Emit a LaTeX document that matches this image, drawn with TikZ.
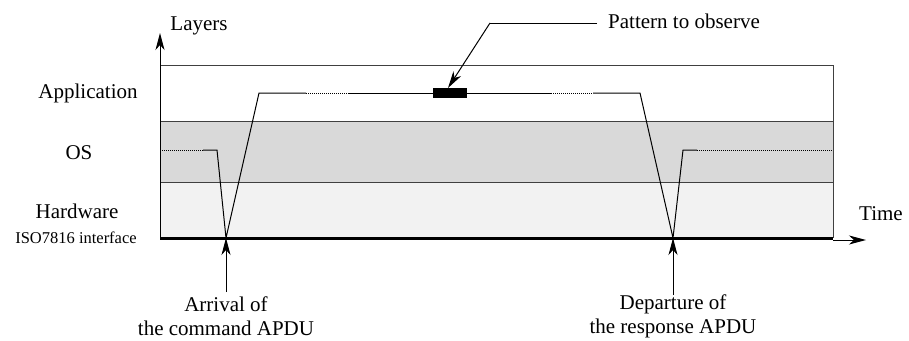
\documentclass[tikz,border=0pt]{standalone}
\usepackage{fontspec}
\setmainfont{Liberation Serif}
\newfontfamily\tms{Liberation Serif}
\usetikzlibrary{arrows.meta}
\definecolor{osgray}{gray}{0.85}
\definecolor{hwgray}{gray}{0.95}
\definecolor{edge}{gray}{0.25}
\begin{document}
\begin{tikzpicture}[x=1pt,y=-1pt,
  lbl/.style={inner sep=0pt,font=\tms\fontsize{21}{24}\selectfont},
  small/.style={inner sep=0pt,font=\tms\fontsize{16.5}{19}\selectfont},
  band/.style={draw=edge,line width=1pt},
  trace/.style={line width=1pt,line join=miter},
  dots/.style={line width=1pt,densely dotted},
  tip/.style={-{Stealth[length=17pt,width=9pt,inset=5pt]}},
  ]
\useasboundingbox (0,0) rectangle (909,340);
% bands
\fill[white] (160,65) rectangle (833,121);
\fill[osgray] (160,121) rectangle (833,182);
\fill[hwgray] (160,182) rectangle (833,238);
\draw[band] (160,65) -- (833,65);
\draw[band] (160,121) -- (833,121);
\draw[band] (160,182) -- (833,182);
\draw[band] (833,65) -- (833,238);
% axes
\coordinate (o) at (160,238);
\coordinate (ytop) at (160,33);
\coordinate (xend) at (833,240);
\coordinate (xtip) at (866,240);
\draw[line width=1pt,tip] (o) -- (ytop);
\draw[line width=3pt] (o) -- (833,238);
\draw[line width=1pt,tip] (xend) -- (xtip);
% trace
\coordinate (a0) at (162,150);
\coordinate (a1) at (203,150);
\coordinate (a2) at (217,150);
\coordinate (arr) at (226,238);
\coordinate (b0) at (259,93);
\coordinate (b1) at (306,93);
\coordinate (b2) at (349,93);
\coordinate (b3) at (433,93);
\coordinate (b4) at (467,93);
\coordinate (b5) at (551,93);
\coordinate (b6) at (593,93);
\coordinate (b7) at (640,93);
\coordinate (dep) at (673,238);
\coordinate (c0) at (683,150);
\coordinate (c1) at (697,150);
\coordinate (c2) at (833,150);
\draw[dots] (a0) -- (a1);
\draw[trace] (a1) -- (a2) -- (arr) -- (b0) -- (b1);
\draw[dots] (b1) -- (b2);
\draw[trace] (b2) -- (b3);
\draw[trace] (b4) -- (b5);
\draw[dots] (b5) -- (b6);
\draw[trace] (b6) -- (b7) -- (dep) -- (c0) -- (c1);
\draw[dots] (c1) -- (c2);
\node[fill=black,inner sep=0pt,minimum width=34pt,minimum height=10pt] (pat) at (450,93) {};
% labels
\node[lbl] (layers) at (199,26) {Layers};
\node[lbl] (app) at (88,93) {Application};
\node[lbl] (os) at (79,153) {OS};
\node[lbl] (hw) at (77,211) {Hardware};
\node[small] (iso) at (76,238) {ISO7816 interface};
\node[lbl] (time) at (881,214) {Time};
\node[lbl,anchor=west] (pto) at (608,21) {Pattern to observe};
\coordinate (p1) at (597,23);
\coordinate (p2) at (490,23);
\draw[line width=1pt] (p1) -- (p2);
\draw[line width=1pt,tip] (p2) -- (448,88);
\node[lbl,align=center] (arrl) at (226,316) {Arrival of\\the command APDU};
\node[lbl,align=center] (depl) at (673,316) {Departure of\\the response APDU};
\draw[line width=1pt,tip] (226,292) -- (arr);
\draw[line width=1pt,tip] (673,295) -- (dep);
\end{tikzpicture}
\end{document}
